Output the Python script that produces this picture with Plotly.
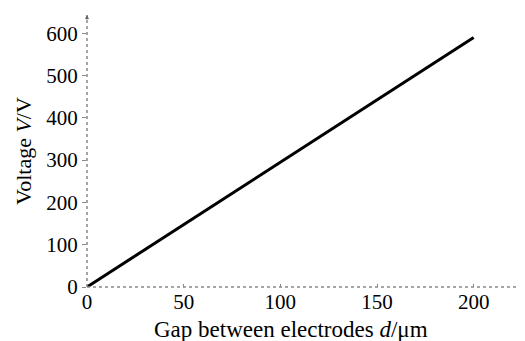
import plotly.graph_objects as go

gap_um = [0, 200]
voltage_v = [0, 590]
x_ticks = [0, 50, 100, 150, 200]
y_ticks = [0, 100, 200, 300, 400, 500, 600]

font_family = "Liberation Serif"

fig = go.Figure()
fig.add_trace(go.Scatter(x=gap_um, y=voltage_v, mode="lines",
                         line=dict(color="black", width=3), showlegend=False))

xmax, ymax = 225, 643
fig.update_layout(
    width=517, height=333,
    margin=dict(l=79, r=3, t=7, b=54),
    plot_bgcolor="white", paper_bgcolor="white",
    font=dict(family=font_family, size=21, color="black"),
    xaxis=dict(range=[0, xmax], tickvals=x_ticks, showgrid=False, zeroline=False,
               showline=False, ticks="inside", ticklen=3, tickcolor="#888",
               automargin=False,
               tickfont=dict(family=font_family, size=21, color="black")),
    yaxis=dict(range=[0, ymax], tickvals=y_ticks, showgrid=False, zeroline=False,
               showline=False, ticks="outside", ticklen=4, tickcolor="#888",
               automargin=False,
               tickfont=dict(family=font_family, size=21, color="black"),
               title=dict(text="Voltage <i>V</i>/V", standoff=8,
                          font=dict(family=font_family, size=22))),
    shapes=[
        dict(type="line", xref="paper", yref="paper", x0=0, y0=0, x1=1, y1=0,
             line=dict(color="#888", width=1.5, dash="dot")),
        dict(type="line", xref="paper", yref="paper", x0=0, y0=0, x1=0, y1=1,
             line=dict(color="#888", width=1.5, dash="dot")),
    ],
    annotations=[
        dict(x=1, y=0, xref="paper", yref="paper", ax=-6, ay=0, text="",
             showarrow=True, arrowhead=2, arrowsize=0.8, arrowwidth=1, arrowcolor="#666"),
        dict(x=0, y=1, xref="paper", yref="paper", ax=0, ay=6, text="",
             showarrow=True, arrowhead=2, arrowsize=0.8, arrowwidth=1, arrowcolor="#666"),
        dict(x=0.469, y=-0.158, xref="paper", yref="paper", xanchor="center", yanchor="middle",
             text="Gap between electrodes <i>d</i>/μm", showarrow=False,
             font=dict(family=font_family, size=23, color="black")),
    ],
)
fig.write_html("out.html")
